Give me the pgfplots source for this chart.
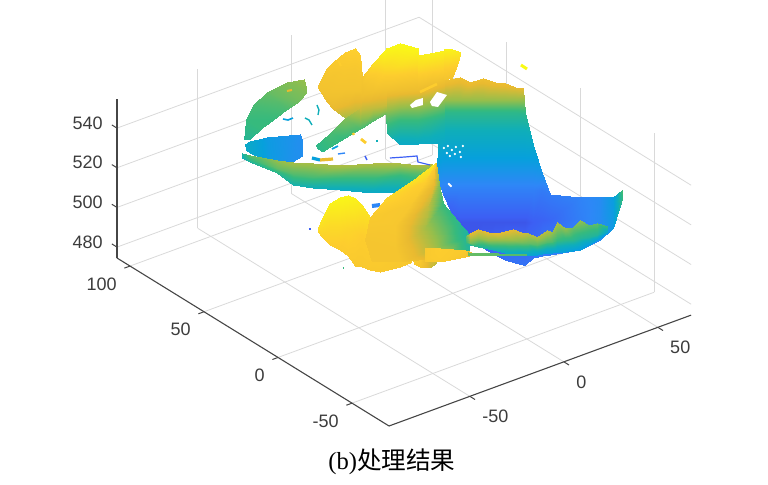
\documentclass[border=0pt]{standalone}
\usepackage{pgfplots}
\pgfplotsset{compat=1.18}
\usepackage{fontspec}
\setmainfont{Liberation Sans}
\newfontfamily\capserif{Liberation Serif}
\newfontfamily\cjk{Noto Sans CJK SC}
\definecolor{axdark}{RGB}{70,70,70}
\definecolor{lbl}{RGB}{60,60,60}
\definecolor{p1}{RGB}{60,95,244}
\definecolor{p2}{RGB}{46,135,247}
\definecolor{p3}{RGB}{6,160,220}
\definecolor{p4}{RGB}{15,174,185}
\definecolor{p5}{RGB}{54,186,125}
\definecolor{p7}{RGB}{233,186,48}
\definecolor{p8}{RGB}{253,205,46}
\definecolor{p9}{RGB}{249,251,21}
\pgfplotsset{
 cloud/.style={surf,shader=interp,point meta=\thisrow{c}},
 colormap={parula}{rgb255=(62,38,168) rgb255=(60,95,244) rgb255=(46,135,247) rgb255=(6,160,220) rgb255=(15,174,185) rgb255=(54,186,125) rgb255=(150,190,75) rgb255=(233,186,48) rgb255=(253,205,46) rgb255=(249,251,21)},
}
\begin{document}
\begin{tikzpicture}
\useasboundingbox (0,0) rectangle (384pt,242pt);
\begin{axis}[at={(58.5pt,29pt)},anchor=south west,
 x={(0.94pt,0.345pt)},y={(-0.74pt,0.457pt)},z={(0pt,0.9915pt)},
 xmin=-93,xmax=67.7,ymin=-75,ymax=108.8,zmin=474.5,zmax=554.6,
 grid=major,grid style={black!15,line width=0.4pt},
 axis line style={draw=none},clip=false,
 xtick={-50,0,50},xticklabels={-50,0,50},
 ytick={-50,0,50,100},yticklabels={-50,0,50,100},
 ztick={480,500,520,540},zticklabels={480,500,520,540},
 tick label style={font=\fontsize{9}{10}\selectfont,text=lbl,inner sep=0pt},
 major tick length=0pt,tick style={draw=none},
 xticklabel style={anchor=west,xshift=6pt,yshift=-10pt},
 yticklabel style={anchor=east,xshift=-6.5pt,yshift=-9pt},
 zticklabel style={anchor=east,xshift=-7pt,yshift=2.5pt},
]
\addplot3[axdark,line width=0.55pt] coordinates {(-93,-75,474.5)(67.7,-75,474.5)};
\addplot3[axdark,line width=0.55pt] coordinates {(-93,-75,474.5)(-93,108.8,474.5)};
\addplot3[axdark,line width=0.55pt] coordinates {(-93,108.8,474.5)(-93,108.8,554.6)};
% tick marks
\addplot3[axdark,line width=0.5pt] coordinates {(-50,-75,474.5)(-50,-78.5,474.5)};
\addplot3[axdark,line width=0.5pt] coordinates {(0,-75,474.5)(0,-78.5,474.5)};
\addplot3[axdark,line width=0.5pt] coordinates {(50,-75,474.5)(50,-78.5,474.5)};
\addplot3[axdark,line width=0.5pt] coordinates {(-93,-50,474.5)(-96,-50,474.5)};
\addplot3[axdark,line width=0.5pt] coordinates {(-93,0,474.5)(-96,0,474.5)};
\addplot3[axdark,line width=0.5pt] coordinates {(-93,50,474.5)(-96,50,474.5)};
\addplot3[axdark,line width=0.5pt] coordinates {(-93,100,474.5)(-96,100,474.5)};
\addplot3[axdark,line width=0.5pt] coordinates {(-93,108.8,480)(-93,112.3,480)};
\addplot3[axdark,line width=0.5pt] coordinates {(-93,108.8,500)(-93,112.3,500)};
\addplot3[axdark,line width=0.5pt] coordinates {(-93,108.8,520)(-93,112.3,520)};
\addplot3[axdark,line width=0.5pt] coordinates {(-93,108.8,540)(-93,112.3,540)};
\end{axis}
\begin{axis}[at={(0pt,0pt)},anchor=south west,width=384pt,height=242pt,scale only axis,
 xmin=0,xmax=768,ymin=0,ymax=484,zmin=0,zmax=1,y dir=reverse,hide axis,view={0}{90},clip=false,
 point meta min=0,point meta max=9]
% wing
\addplot3[cloud,mesh/cols=2] table[z expr=0] {
x y c
244 140 4.6
250 139 4.6
246 120 5
262 128 5
253 105 5.2
273 120 5
267 92 5.5
286 110 5.2
287 82 5.8
298 102 5.6
304 79 6
307 92 5.8
};
% blue blob
\addplot3[cloud,mesh/cols=2] table[z expr=0] {
x y c
245 144 3.6
246 150 3.6
250 141 3.5
250 153 3.5
267 137 2.8
270 162 2.8
300 134 2.3
292 162 2.4
303 143 2.3
302 156 2.3
};
% lower left band
\addplot3[cloud,mesh/cols=3] table[z expr=0] {
x y c
242 153 4.4
242 155 4.2
242 158 4
250 155 5.5
250 159 5
250 162 4.5
277 160 6
277 168 5.5
277 173 4.7
293 162 6.2
293 174 5.3
293 185 4.2
313 163 6.2
313 177 5.2
313 188 4
340 165 6.3
340 178 5
340 190 3.8
373 163 6.3
373 178 5
373 193 3.6
400 163 6.3
400 175 5
400 192 3.7
420 165 6.3
420 172 5.5
420 182 4.5
433 163 6.5
433 165 6.3
433 170 6
};
% main sheet
\addplot3[cloud,mesh/cols=8] table[z expr=0] {
x y c
437 165 2.9
437 165 2.9
437 165 2.9
437 165 2.9
437 168 2.8
437 177 2.4
437 178 2.4
437 178 2.4
443 80 7.3
443 100 6
443 112 4.8
443 130 4
443 158 3
443 190 1.8
443 193 1.7
443 194 1.7
450 79 7.3
450 100 6
450 112 4.8
450 130 4
450 158 3
450 190 1.8
450 205 1.2
450 210 1.1
460 77 7.3
460 100 6
460 112 4.8
460 130 4
460 158 3
460 190 1.8
460 222 0.85
460 225 0.85
470 82 7.2
470 100 6
470 112 4.8
470 130 4
470 158 3
470 190 1.8
470 222 0.85
470 238 0.85
483 78 7.3
483 100 6
483 112 4.8
483 130 4
483 158 3
483 190 1.8
483 222 0.85
483 248 1
495 82 7.2
495 100 6
495 112 4.8
495 130 4
495 158 3
495 190 1.8
495 222 0.85
495 255 1.2
505 83 7.2
505 100 6
505 112 4.8
505 130 4
505 158 3
505 190 1.8
505 222 0.85
505 260 1.4
515 87 7
515 100 6
515 112 4.8
515 130 4
515 158 3
515 190 1.8
515 222 0.85
515 263 1.5
523 88 7
523 102 5.8
523 114 4.7
523 130 4
523 158 3
523 190 1.8
523 222 0.85
523 265 1.5
525 113 4.8
525 113 4.8
525 113 4.8
525 130 4
525 158 3
525 190 1.8
525 222 0.85
525 265 1.5
533 145 3.5
533 145 3.5
533 145 3.5
533 145 3.5
533 158 3
533 190 1.8
533 222 1
533 258 1.5
542 173 2.5
542 173 2.5
542 173 2.5
542 173 2.5
542 173 2.5
542 190 1.7
542 220 1.1
542 256 1.8
550 194 1.7
550 194 1.7
550 194 1.7
550 194 1.7
550 194 1.7
550 194 1.7
550 220 1.2
550 255 1.8
580 197 1.9
580 197 1.9
580 197 1.9
580 197 1.9
580 197 1.9
580 197 1.9
580 220 1.8
580 250 2
600 197 2.2
600 197 2.2
600 197 2.2
600 197 2.2
600 197 2.2
600 197 2.2
600 220 2.2
600 240 2.2
613 197 2.9
613 197 2.9
613 197 2.9
613 197 2.9
613 197 2.9
613 197 2.9
613 215 2.8
613 228 2.8
623 189 5.4
623 189 5.4
623 189 5.4
623 189 5.4
623 189 5.4
623 189 5.4
623 196 5
620 203 4.8
};
% body with lobes
\addplot3[cloud,mesh/cols=5] table[z expr=0] {
x y c
318 85 7.5
318 86 7.5
318 87 7.5
318 87 7.5
318 88 7.5
327 68 7.7
327 78 7.6
327 88 7.5
327 95 7.4
327 102 7.2
333 62 7.8
333 75 7.6
333 90 7.5
333 100 7.3
333 109 7
345 52 8
345 70 7.7
345 90 7.5
345 105 7
345 118 6.2
355 48 8.1
355 68 7.7
355 90 7.5
355 110 6.6
355 132 5.2
360 55 8
360 72 7.7
360 90 7.5
360 110 6.6
360 129 5.2
362 77 7.6
362 85 7.5
362 95 7.3
362 110 6.5
362 128 5.2
373 63 8.4
373 78 7.8
373 92 7.4
373 108 6.5
373 121.5 5.3
385 50 8.9
385 70 8.2
385 90 7.4
385 105 6.6
385 114 5.6
386.5 48 8.9
386.5 70 8.2
386.5 90 7.4
386.5 105 6.6
386.5 114 5.6
387.5 48 8.9
387.5 70 8.2
387.5 90 7.4
387.5 115 5.6
387.5 133 4.5
400 43 9
400 65 8.4
400 90 7.3
400 120 5
400 145 3.6
418 48 8.9
418 65 8.3
418 90 7.2
418 120 5
418 144 3.7
418.5 55 8.7
418.5 70 8.2
418.5 90 7.2
418.5 120 5
418.5 144 3.7
430 53 8.8
430 70 8.1
430 90 7
430 120 4.8
430 143 3.7
445 50 8.8
445 70 8
445 90 6.7
445 120 4.5
445 143 3.6
};
% third lobe tip
\addplot3[cloud,mesh/cols=2] table[z expr=0] {
x y c
444 49 8.8
444 80 7.5
452 49 8.8
452 78 7.5
461 52 8.6
456 68 8.1
};
% strip
\addplot3[cloud,mesh/cols=2] table[z expr=0] {
x y c
316 145 4.8
317 148 4.8
322 140 5
322 152 4.8
330 133 5.2
330 147 5
345 118 5.8
345 138 5
360 108 6.6
360 129 5.2
};
% paler patches on the lobes
\addplot3[p8,line width=1.3pt] coordinates {(420,92,0)(437,84,0)};
\addplot3[p8,line width=1.1pt] coordinates {(338,60,0)(341,66,0)};
\addplot3[p7,line width=1pt] coordinates {(287,91,0)(292,90,0)};
% holes in the body
\addplot3[fill=white,draw=none] coordinates {(410,105,0)(416,100,0)(423,98,0)(423,105,0)(412,108,0)};
\addplot3[fill=white,draw=none] coordinates {(430,102,0)(437,92,0)(447,95,0)(438,107,0)(432,106,0)};
% speckle
\addplot3[only marks,mark=*,mark size=0.35pt,white] coordinates {(444,148,0)(448,146,0)(452,150,0)(456,147,0)(460,152,0)(463,146,0)(450,156,0)(455,154,0)(461,157,0)(447,153,0)(450,185,0)(449,184,0)(451,186,0)};
% scattered bits
\addplot3[p3,line width=0.8pt] coordinates {(283,119,0)(288,120,0)(293,118,0)};
\addplot3[p4,line width=0.7pt] coordinates {(305,118,0)(309,120,0)(312,125,0)};
\addplot3[p4,line width=0.7pt] coordinates {(317,105,0)(319,110,0)(318,115,0)};
\addplot3[p3,line width=0.8pt] coordinates {(332,149,0)(338,146,0)};
\addplot3[p2,line width=0.7pt] coordinates {(338,154,0)(345,153,0)};
\addplot3[p1,line width=0.7pt] coordinates {(365,156,0)(367,160,0)};
\addplot3[p1,line width=0.6pt] coordinates {(390,158,0)(405,157,0)(417,156,0)(418,162,0)(430,165,0)};
\addplot3[p3,line width=1.6pt] coordinates {(312,158,0)(320,160,0)};
\addplot3[p7,line width=1.6pt] coordinates {(320,160,0)(333,159,0)};
\addplot3[p8,line width=1.2pt] coordinates {(353,133,0)(354,135,0)};
\addplot3[p8,line width=1.4pt] coordinates {(361,139,0)(366,143,0)};
\addplot3[p4,line width=0.8pt] coordinates {(377,140,0)(377,142,0)};
\addplot3[p9,line width=1.5pt] coordinates {(521,65,0)(527,69,0)};
\addplot3[p2,line width=1.2pt] coordinates {(360,205,0)(362,206,0)};
\addplot3[p2,line width=2pt] coordinates {(372,206,0)(380,205,0)};
\addplot3[p1,line width=0.8pt] coordinates {(309,229,0)(311,229,0)};
\addplot3[p1,line width=0.8pt] coordinates {(322,232,0)(325,232,0)};
\addplot3[p5,line width=0.8pt] coordinates {(343,268,0)(344,268,0)};
% yellow blob
\addplot3[cloud,mesh/cols=3] table[z expr=0] {
x y c
318 228 8.4
318 230 8.3
318 232 8.2
322 218 8.6
322 228 8.3
322 237 8.1
330 203 8.8
330 225 8.3
330 245 8
340 197 8.9
340 225 8.3
340 250 7.9
348 195 8.9
348 228 8.2
348 256 7.9
355 198 8.8
355 232 8.1
355 266 7.8
362 205 8.6
362 235 8
362 267 7.8
370 217 8.4
370 243 8
370 270 7.8
380 225 8.2
380 248 7.9
380 272 7.8
400 240 8
400 255 7.8
400 267 7.7
412 250 7.8
412 256 7.8
412 262 7.7
};
% small lumps at the bottom of the wedge
\addplot3[cloud,mesh/cols=2] table[z expr=0] {
x y c
412 256 7.8
414 264 7.8
420 258 7.8
420 267 7.6
428 258 7
431 267 6.6
437 257 6.8
436 263 6.5
};
% wedge
\addplot3[cloud,mesh/cols=4] table[z expr=0] {
x y c
435 163 8.6
435.3 163 8.6
435.6 163 8
436 163 7
413 180 8.5
425 182 8
434 184 7
439 184 5.8
387 197 8.2
410 205 7.7
428 207 6.5
443 203 5
370 217 7.8
395 225 7.7
425 228 6.2
457 220 4.8
365 240 7.6
395 248 7.6
430 250 6.4
470 235 4.3
372 262 7.6
400 262 7.6
435 258 6.8
470 255 4.5
};
% front band
\addplot3[cloud,mesh/cols=3] table[z expr=0] {
x y c
466 236 5.5
466 242 5
466 245 4.5
470 233 7
470 243 5.6
470 245 4.5
478 229 7
478 238 6
478 247 4.5
488 232 7
488 240 6
488 249 4.2
497 233 7
497 240 6
497 251 4
505 231 7
505 240 6
505 253 3.7
513 229 7
513 240 6
513 255 3.5
521 232 6.8
521 242 5.7
521 255 3.4
528 233 6.5
528 243 5.5
528 256 3.3
537 237 6.3
537 245 5.3
537 255 3
547 230 6.5
547 242 5.3
547 253 3
552 232 6
552 242 5.2
552 252.5 3
557 222 6.3
557 240 5
557 252 3
565 228 6
565 240 4.8
565 251.5 2.9
573 227 5.6
573 240 4.7
573 250.5 2.9
580 220 6
580 238 4.6
580 249.5 2.8
589 225 5.4
589 237 4.5
589 245 2.9
597 223 5.5
597 235 4.5
597 240 3
608 226 5
608 232 3.5
608 233 2.5
};
% orange streak
\addplot3[cloud,mesh/cols=2] table[z expr=0] {
x y c
425 248 7.8
425 262 7.8
440 248 8
440 262 7.9
465 250 7.8
465 257 7.6
472 252 7
472 255 7
};
% thin green streak
\addplot3[cloud,mesh/cols=2] table[z expr=0] {
x y c
468 252 5.5
468 255.5 5.5
527 254.5 5.3
527 255.5 5.3
};
\node[font=\fontsize{12.3}{14}\selectfont,text=black] at (axis cs:392,462) {{\capserif (b)}{\cjk 处理结果}};
\end{axis}
\end{tikzpicture}
\end{document}
